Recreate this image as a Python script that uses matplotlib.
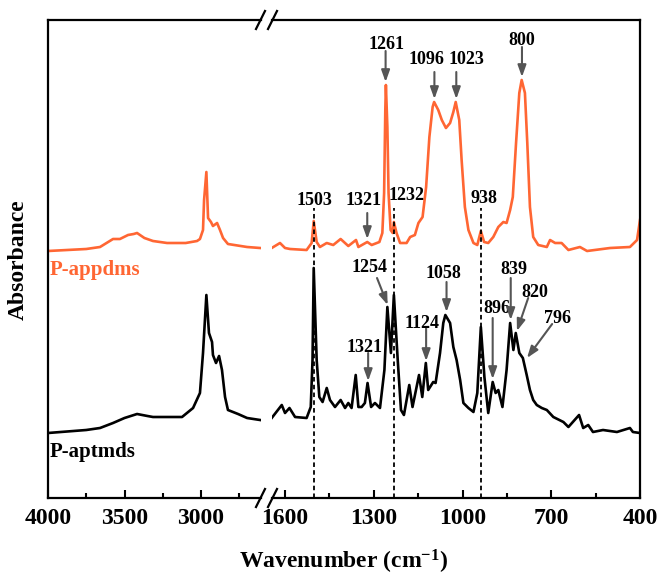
"""
FTIR spectra of P-appdms and P-aptmds with a broken wavenumber axis
"""
import matplotlib
matplotlib.use('Agg')
import matplotlib.pyplot as plt
from matplotlib.lines import Line2D

plt.rcParams['font.family'] = ['Liberation Serif', 'DejaVu Serif']
plt.rcParams['font.weight'] = 'bold'
plt.rcParams['mathtext.fontset'] = 'custom'
plt.rcParams['mathtext.rm'] = 'Liberation Serif:bold'
plt.rcParams['mathtext.default'] = 'rm'

# ---- data (wavenumber in cm-1, absorbance in arbitrary units, offset traces) ----
# P-appdms (orange), high wavenumber part
appdms_hi_wn = [4000, 3750, 3660, 3575, 3530, 3477, 3440, 3418, 3370, 3314,
                3222, 3100, 3026, 3007, 2987, 2980, 2965, 2954, 2935, 2922,
                2895, 2876, 2856, 2824, 2699, 2614]
appdms_hi_abs = [246, 248, 250, 258, 258, 262, 263, 264, 259, 256,
                 254, 254, 256, 258, 267, 297, 325, 279, 275, 271,
                 274, 267, 259, 253, 250, 249]

# P-appdms, fingerprint part
appdms_lo_wn = [1645, 1617, 1600, 1583, 1527, 1510, 1503, 1493, 1482, 1459,
                1437, 1412, 1386, 1360, 1352, 1322, 1307, 1281, 1271, 1265,
                1261, 1259, 1254, 1250, 1243, 1236, 1232, 1223, 1211, 1189,
                1177, 1161, 1149, 1135, 1123, 1112, 1101, 1096, 1082, 1070,
                1056, 1042, 1031, 1023, 1011, 1003, 992, 980, 963, 950,
                938, 927, 913, 896, 879, 862, 851, 839, 830, 819,
                808, 800, 789, 781, 772, 761, 744, 715, 704, 687,
                665, 642, 603, 579, 501, 434, 410, 400]
appdms_lo_abs = [249, 254, 249, 248, 247, 254, 276, 255, 250, 254,
                 252, 258, 251, 257, 250, 255, 252, 255, 264, 304,
                 387, 412, 370, 304, 267, 264, 275, 264, 254, 254,
                 260, 262, 274, 280, 310, 360, 390, 395, 387, 377,
                 369, 374, 385, 395, 377, 337, 290, 267, 254, 252,
                 266, 255, 254, 260, 270, 275, 274, 287, 300, 354,
                 404, 417, 404, 354, 290, 260, 252, 250, 257, 254,
                 254, 247, 250, 246, 249, 250, 257, 277]

# P-aptmds (black), high wavenumber part
aptmds_hi_wn = [4000, 3750, 3660, 3575, 3500, 3418, 3350, 3314, 3200, 3124,
                3052, 3007, 2987, 2965, 2948, 2928, 2922, 2902, 2882, 2863,
                2843, 2824, 2758, 2699, 2614]
aptmds_hi_abs = [64, 67, 69, 74, 79, 83, 81, 80, 80, 80,
                 89, 104, 144, 202, 164, 155, 142, 134, 141, 127,
                 100, 87, 83, 79, 77]

# P-aptmds, fingerprint part
aptmds_lo_wn = [1645, 1611, 1600, 1585, 1566, 1527, 1513, 1507, 1503, 1493,
                1484, 1473, 1459, 1448, 1431, 1412, 1397, 1386, 1375, 1361,
                1352, 1341, 1330, 1321, 1309, 1296, 1279, 1264, 1254, 1242,
                1232, 1219, 1208, 1198, 1180, 1169, 1147, 1136, 1124, 1116,
                1099, 1091, 1076, 1065, 1058, 1042, 1031, 1020, 1008, 997,
                980, 963, 950, 938, 926, 913, 898, 888, 879, 865,
                851, 839, 828, 820, 808, 796, 783, 772, 761, 749,
                732, 715, 693, 659, 642, 606, 592, 575, 559, 525,
                478, 434, 424, 400]
aptmds_lo_abs = [79, 92, 84, 89, 80, 79, 90, 137, 229, 137,
                 100, 95, 109, 97, 90, 97, 89, 94, 89, 122,
                 90, 90, 94, 114, 90, 94, 89, 127, 190, 144,
                 202, 137, 87, 82, 112, 90, 122, 100, 134, 107,
                 115, 114, 144, 174, 182, 174, 150, 137, 117, 94,
                 89, 85, 104, 170, 120, 84, 115, 104, 107, 90,
                 127, 174, 147, 164, 144, 139, 122, 107, 97, 92,
                 89, 87, 80, 75, 70, 82, 69, 72, 65, 67,
                 65, 69, 65, 64]

# dashed reference bands shared by both samples
dashed_wn = [1503, 1232, 938]

# arrow annotations: label, text (x, y), arrow start (x, y), arrow tip (x, y)
annotations = [
    ('1261', (1258, 453), (1260, 446), (1260, 415)),
    ('1096', (1123, 438), (1095, 425), (1095, 398)),
    ('1023', (988, 438), (1021, 425), (1021, 398)),
    ('800', (800, 457), (799, 450), (799, 420)),
    ('1321', (1333, 297), (1322, 284), (1322, 258)),
    ('1254', (1313, 230), (1289, 219), (1253, 192)),
    ('1321', (1330, 150), (1319, 144), (1319, 116)),
    ('1124', (1137, 174), (1123, 169), (1123, 136)),
    ('1058', (1066, 224), (1054, 215), (1054, 185)),
    ('896', (883, 189), (898, 179), (898, 118)),
    ('839', (826, 228), (837, 219), (837, 177)),
    ('820', (755, 205), (778, 199), (816, 166)),
    ('796', (680, 179), (697, 173), (782, 139)),
]
# labels sitting on top of the dashed lines
dashed_labels = [('1503', (1499, 297)), ('1232', (1188, 302)), ('938', (927, 299))]

ORANGE = '#FF6633'
ARROW = '#555555'

# ---- figure with two axes forming a broken x axis ----
W, H = 660, 577
fig = plt.figure(figsize=(W / 100, H / 100), dpi=100)


def px_box(x0, x1, ytop, ybot):
    return [x0 / W, 1 - ybot / H, (x1 - x0) / W, (ybot - ytop) / H]


axL = fig.add_axes(px_box(48, 261, 20, 498))
axR = fig.add_axes(px_box(272, 640, 20, 498))

axL.plot(appdms_hi_wn, appdms_hi_abs, color=ORANGE, lw=1.9)
axL.plot(aptmds_hi_wn, aptmds_hi_abs, color='black', lw=1.9)
axR.plot(appdms_lo_wn, appdms_lo_abs, color=ORANGE, lw=1.9)
axR.plot(aptmds_lo_wn, aptmds_lo_abs, color='black', lw=1.9)

axL.set_xlim(4000, 2608)
axR.set_xlim(1644, 400)
for ax in (axL, axR):
    ax.set_ylim(-1, 477)
    ax.set_yticks([])
    ax.tick_params(axis='x', which='major', direction='in', length=6, width=1.5,
                   labelsize=17, pad=7, top=False)
    ax.tick_params(axis='x', which='minor', direction='in', length=3.5, width=1.5,
                   top=False)
    for s in ax.spines.values():
        s.set_linewidth(1.6)

axL.set_xticks([4000, 3500, 3000])
axL.set_xticks([3750, 3250, 2750], minor=True)
axR.set_xticks([1600, 1300, 1000, 700, 400])
axR.set_xticks([1450, 1150, 850, 550], minor=True)
axL.spines['right'].set_visible(False)
axR.spines['left'].set_visible(False)

# dashed reference lines
axR.vlines(dashed_wn, -1, 289, colors='black', linestyles=(0, (2.5, 1.8)), lw=1.3)
for lab, (x, y) in dashed_labels:
    axR.text(x, y, lab, fontsize=13, ha='center', va='center')

# arrows
for lab, (tx, ty), (x0, y0), (x1, y1) in annotations:
    axR.annotate('', xy=(x1, y1), xytext=(x0, y0),
                 arrowprops=dict(arrowstyle='-|>,head_length=0.7,head_width=0.25',
                                 color=ARROW, lw=1.5, shrinkA=0, shrinkB=0))
    axR.text(tx, ty, lab, fontsize=13, ha='center', va='center')

# sample names
axL.text(3990, 227, 'P-appdms', color=ORANGE, fontsize=15, ha='left', va='center')
axL.text(3990, 45, 'P-aptmds', color='black', fontsize=15, ha='left', va='center')

# break marks "//" on top and bottom spines
for yb in (20, 498):
    for xb in (260.5, 272.5):
        fig.add_artist(Line2D([(xb - 4.5) / W, (xb + 4.5) / W],
                              [1 - (yb + 9) / H, 1 - (yb - 9) / H],
                              color='black', lw=1.6))

fig.text(18 / W, 1 - 260 / H, 'Absorbance', rotation=90, fontsize=17,
         ha='center', va='center')
fig.text(344 / W, 1 - 562 / H, 'Wavenumber (cm$^{-1}$)', fontsize=17,
         ha='center', va='center')

fig.savefig('out.png', dpi=100)
